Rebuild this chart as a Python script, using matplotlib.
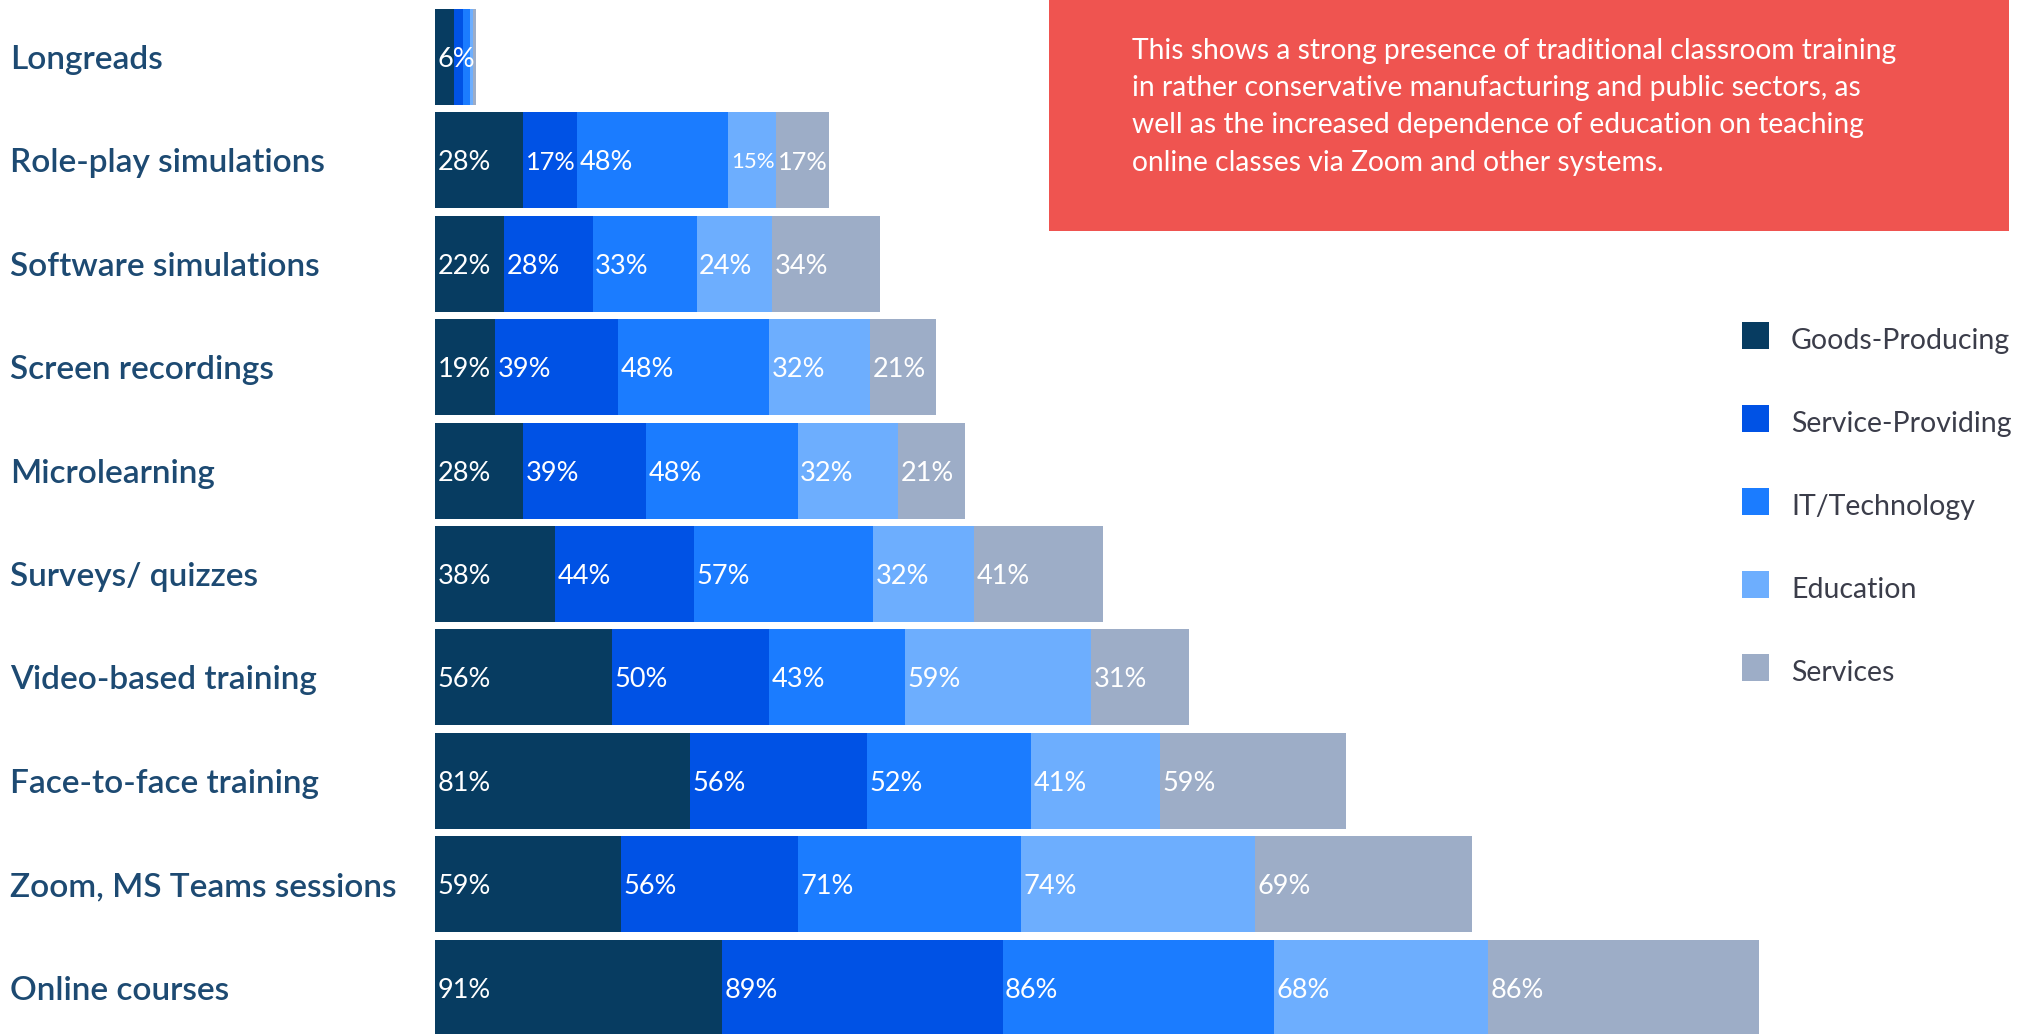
import matplotlib
matplotlib.use("Agg")
import matplotlib.pyplot as plt
from matplotlib.patches import Rectangle
from matplotlib.transforms import blended_transform_factory
import numpy as np

# ---------------- data ----------------
categories = ["Longreads", "Role-play simulations", "Software simulations",
              "Screen recordings", "Microlearning", "Surveys/ quizzes",
              "Video-based training", "Face-to-face training",
              "Zoom, MS Teams sessions", "Online courses"]
series_names = ["Goods-Producing", "Service-Providing", "IT/Technology",
                "Education", "Services"]
goods_producing   = [6, 28, 22, 19, 28, 38, 56, 81, 59, 91]
service_providing = [3, 17, 28, 39, 39, 44, 50, 56, 56, 89]
it_technology     = [2, 48, 33, 48, 48, 57, 43, 52, 71, 86]
education         = [1, 15, 24, 32, 32, 32, 59, 41, 74, 68]
services          = [1, 17, 34, 21, 21, 41, 31, 59, 69, 86]
note_lines = ["This shows a strong presence of traditional classroom training",
              "in rather conservative manufacturing and public sectors, as",
              "well as the increased dependence of education on teaching",
              "online classes via Zoom and other systems."]

colors = ["#073c61", "#0052e5", "#1b7cff", "#6daefe", "#9dadc7"]
series = [goods_producing, service_providing, it_technology, education, services]

# ---------------- layout (pixels) ----------------
W, H = 2035, 1034
x0 = 435          # bar start pixel
px_per = 3.153    # pixels per percent
y_first = 57.0    # centre of first bar (from top)
pitch = 103.4
bar_h = 0.93

fig = plt.figure(figsize=(W / 100, H / 100), dpi=100)
fig.patch.set_facecolor("white")
ax = fig.add_axes([0, 0, 1, 1])
ax.set_xlim(-x0 / px_per, (W - x0) / px_per)
ax.set_ylim((H - y_first) / pitch, -y_first / pitch)
ax.axis("off")

FONT = "Lato"
y_idx = np.arange(len(categories))
left = np.zeros(len(categories))
for name, vals, col in zip(series_names, series, colors):
    vals = np.array(vals, dtype=float)
    ax.barh(y_idx, vals, left=left, height=bar_h, color=col, linewidth=0)
    left = left + vals

# value labels
renderer = fig.canvas.get_renderer()
totals = np.sum(np.array(series, dtype=float), axis=0)
left = np.zeros(len(categories))
pad_px = 2.5
pad = pad_px / px_per
base_fs = 19.5
for vals in series:
    for i, v in enumerate(vals):
        if v >= 5:
            t = ax.text(left[i] + pad, i, f"{v}%", color="white", fontsize=base_fs,
                        family=FONT, ha="left", va="center_baseline")
            seg_px = v * px_per
            if v >= 10:
                wpx = t.get_window_extent(renderer).width
                avail = seg_px - pad_px - 1
                if wpx > avail:
                    t.set_fontsize(base_fs * avail / wpx)
            clip = Rectangle((0, i - bar_h / 2), totals[i], bar_h,
                             transform=ax.transData)
            t.set_clip_path(clip)
    left = left + np.array(vals, dtype=float)

# category labels
trans = blended_transform_factory(fig.transFigure, ax.transData)
for i, c in enumerate(categories):
    ax.text(10 / W, i, c, transform=trans, fontsize=24, family=FONT,
            fontweight="semibold", color="#1d4a72", ha="left",
            va="center_baseline")

# note box
box = Rectangle((1049 / W, 1 - 231 / H), (2009 - 1049) / W, 231 / H,
                transform=fig.transFigure, facecolor="#ef5450", edgecolor="none",
                zorder=5)
fig.patches.append(box)
for k, line in enumerate(note_lines):
    fig.text(1132 / W, 1 - (58.5 + 37.5 * k) / H, line, color="white",
             fontsize=20.3, family=FONT, ha="left", va="baseline", zorder=6)

# legend
for k, (name, col) in enumerate(zip(series_names, colors)):
    top = 322 + 83 * k
    fig.patches.append(Rectangle((1742 / W, 1 - (top + 27) / H), 27 / W, 27 / H,
                                 transform=fig.transFigure, facecolor=col,
                                 edgecolor="none"))
    fig.text(1791 / W, 1 - (top + 27) / H, name, color="#3b3d4a",
             fontsize=20.5, family=FONT, ha="left", va="baseline")

fig.savefig("out.png", dpi=100)
